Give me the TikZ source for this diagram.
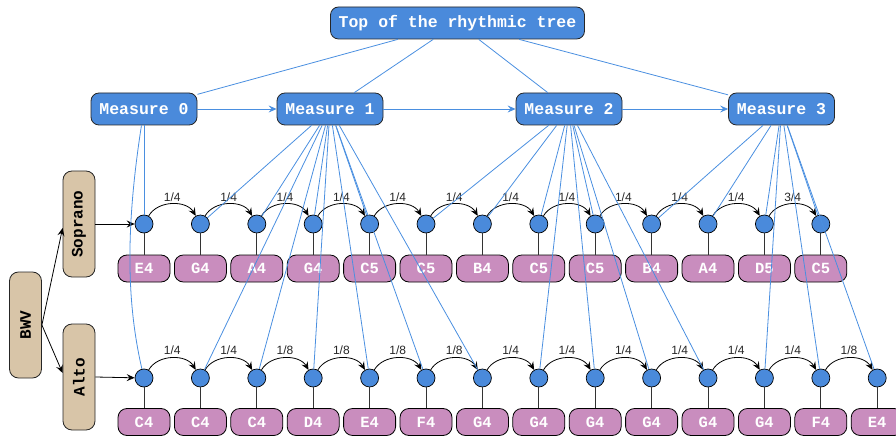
\documentclass[tikz,border=0pt]{standalone}
\usepackage{fontspec}
\setmainfont{Liberation Sans}
\newfontfamily\monob{Liberation Mono}
\usetikzlibrary{arrows.meta,calc}
\definecolor{nodeblue}{HTML}{4A8ADB}
\definecolor{lineblue}{HTML}{4A8FE0}
\definecolor{notepink}{HTML}{C98DBE}
\definecolor{beigebox}{HTML}{D8C5A8}
\begin{document}
\begin{tikzpicture}[x=1pt,y=-1pt,
  mbox/.style={draw=black!85, fill=nodeblue, rounded corners=8pt, minimum height=32pt,
    text=white, font=\monob\bfseries\fontsize{16.5}{18}\selectfont, inner sep=0pt, line width=0.8pt},
  dot/.style={circle, draw=black, fill=nodeblue, minimum size=18pt, inner sep=0pt, line width=0.7pt},
  notebox/.style={draw=black, fill=notepink, rounded corners=9pt, minimum width=52pt, minimum height=27pt,
    inner sep=0pt, text=white, font=\monob\bfseries\fontsize{15.5}{17}\selectfont, line width=0.8pt},
  voicebox/.style={draw=black!85, fill=beigebox, rounded corners=9pt, minimum width=106pt, minimum height=32pt,
    inner sep=0pt, rotate=90, font=\monob\bfseries\fontsize{16}{18}\selectfont, line width=0.8pt},
  blueline/.style={draw=lineblue, line width=0.8pt},
  bluearrow/.style={draw=lineblue, line width=0.8pt, -{Stealth[length=8pt,width=7pt,inset=3pt]}},
  blackarrow/.style={draw=black, line width=0.8pt, -{Stealth[length=8pt,width=7pt,inset=3pt]}},
  stem/.style={draw=black!80, line width=0.9pt},
  lbl/.style={font=\fontsize{12}{14}\selectfont, text=black!85, inner sep=0pt}
]
\useasboundingbox (0,0) rectangle (896,438);

% top and measures
\node[mbox, minimum width=254pt] (top) at (457.5,23) {Top of the rhythmic tree};
\node[mbox, minimum width=106pt] (m0) at (144,109) {Measure 0};
\node[mbox, minimum width=106pt] (m1) at (330,109) {Measure 1};
\node[mbox, minimum width=106pt] (m2) at (569,109) {Measure 2};
\node[mbox, minimum width=106pt] (m3) at (781.5,109) {Measure 3};

% voices
\node[voicebox] (bwv) at (25.5,325) {BWV};
\node[voicebox] (sop) at (79,224) {Soprano};
\node[voicebox] (alt) at (79,377) {Alto};

% soprano notes
\foreach \n [count=\i from 0] in {E4,G4,A4,G4,C5,C5,B4,C5,C5,B4,A4,D5,C5} {
  \node[dot] (s\i) at (144+56.4*\i,224) {};
  \node[notebox] (ns\i) at (144+56.4*\i,268.5) {\n};
  \draw[stem] (s\i.south) -- (ns\i.north);
}
% alto notes
\foreach \n [count=\i from 0] in {C4,C4,C4,D4,E4,F4,G4,G4,G4,G4,G4,G4,F4,E4} {
  \node[dot] (a\i) at (144+56.4*\i,378) {};
  \node[notebox] (na\i) at (144+56.4*\i,422) {\n};
  \draw[stem] (a\i.south) -- (na\i.north);
}

% rhythm arcs soprano
\foreach \l [count=\i from 0] in {1/4,1/4,1/4,1/4,1/4,1/4,1/4,1/4,1/4,1/4,1/4,3/4} {
  \pgfmathtruncatemacro{\j}{\i+1}
  \draw[blackarrow] (s\i) to[out=60,in=120] (s\j);
  \node[lbl] (ls\i) at ($(s\i)!0.5!(s\j)+(0,-27)$) {\l};
}
% rhythm arcs alto
\foreach \l [count=\i from 0] in {1/4,1/4,1/8,1/8,1/8,1/8,1/4,1/4,1/4,1/4,1/4,1/4,1/8} {
  \pgfmathtruncatemacro{\j}{\i+1}
  \draw[blackarrow] (a\i) to[out=60,in=120] (a\j);
  \node[lbl] (la\i) at ($(a\i)!0.5!(a\j)+(0,-28)$) {\l};
}

% voice arrows
\coordinate (sopin) at ($(sop.north)+(0,4)$);
\coordinate (altin) at ($(alt.north)+(0,-4)$);
\draw[blackarrow] (bwv.south) -- (sopin);
\draw[blackarrow] (bwv.south) -- (altin);
\draw[blackarrow] (sop.south) -- (s0);
\draw[blackarrow] (alt.south) -- (a0);

% tree edges
\foreach \m in {m0,m1,m2,m3} { \draw[blueline] (top) -- (\m); }
\draw[bluearrow] (m0) -- (m1);
\draw[bluearrow] (m1) -- (m2);
\draw[bluearrow] (m2) -- (m3);

% measure to notes
\draw[blueline] (m0) -- (s0);
\draw[blueline] (m0) .. controls (126,225) and (126,300) .. (a0);
\foreach \k in {1,...,4} { \draw[blueline] (m1) -- (s\k); }
\foreach \k in {1,...,6} { \draw[blueline] (m1) -- (a\k); }
\foreach \k in {5,...,8} { \draw[blueline] (m2) -- (s\k); }
\foreach \k in {7,...,10} { \draw[blueline] (m2) -- (a\k); }
\foreach \k in {9,...,12} { \draw[blueline] (m3) -- (s\k); }
\foreach \k in {11,...,13} { \draw[blueline] (m3) -- (a\k); }
\end{tikzpicture}
\end{document}
